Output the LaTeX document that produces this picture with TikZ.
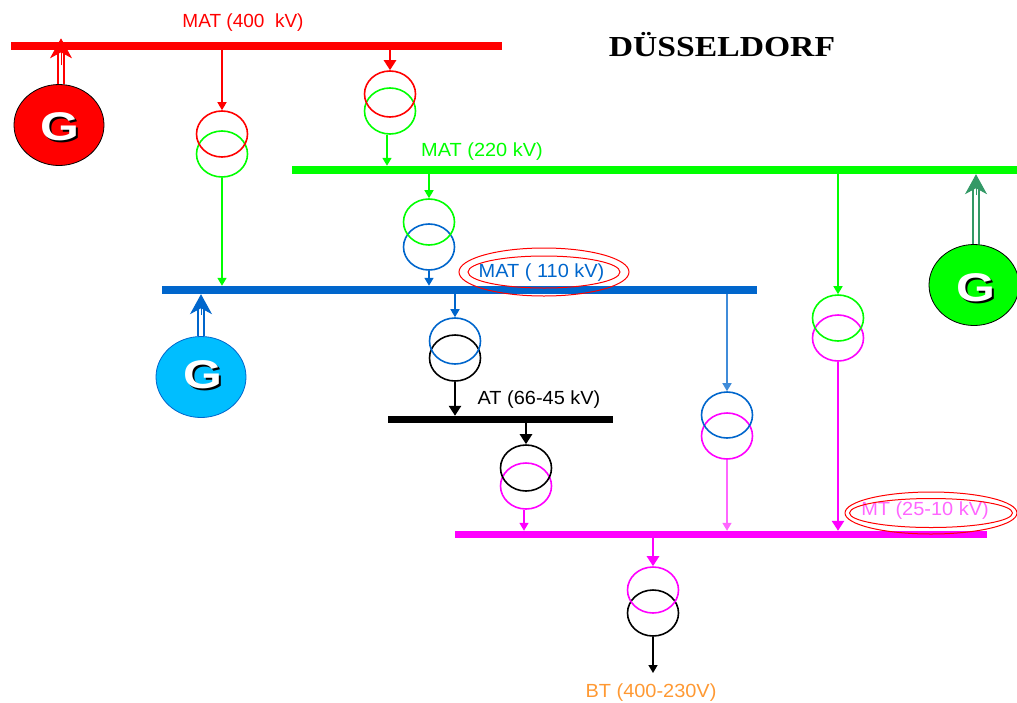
\documentclass[tikz,border=0pt]{standalone}
\usepackage{fontspec}
\setmainfont{Liberation Sans}
\newfontfamily\titlefont{Liberation Serif}
\usetikzlibrary{arrows.meta,shapes.geometric}
\definecolor{busred}{RGB}{255,0,0}
\definecolor{busgreen}{RGB}{0,255,0}
\definecolor{busblue}{RGB}{0,102,204}
\definecolor{buspink}{RGB}{255,0,255}
\definecolor{lightpink}{RGB}{255,102,255}
\definecolor{lvorange}{RGB}{255,153,51}
\definecolor{genteal}{RGB}{51,153,102}
\definecolor{gencyan}{RGB}{0,190,255}
\tikzset{
  bus/.style={rectangle,fill=#1,inner sep=0pt,minimum height=8},
  winding/.style={ellipse,draw=#1,line width=1.6,inner sep=0pt,minimum width=51,minimum height=46},
  feed/.style={draw=#1,line width=1.5,-{Triangle[length=8,width=9]}},
  heavyfeed/.style={draw=#1,line width=2.5,-{Triangle[length=10,width=12]}},
  gen/.style={ellipse,draw=black,fill=#1,line width=.8,inner sep=0pt,minimum width=90,minimum height=81},
  genshaft/.style={draw=#1,line width=2,double=white,double distance=4,shorten >=12},
  genhead/.style={draw=#1,line width=1,-{Stealth[length=20,width=22,inset=6]}},
  genletter/.style={text=#1,font=\bfseries\fontsize{40}{40}\selectfont,xscale=1.25},
  level/.style={text=#1,font=\fontsize{19}{19}\selectfont,xscale=1.05},
  ring/.style={ellipse,draw=busred,line width=1,inner sep=0pt}
}
\begin{document}
\begin{tikzpicture}[x=1pt,y=-1pt]
  \useasboundingbox (0,0) rectangle (1017,702);
  \node[bus=busred,minimum width=491] (bus400) at (256.5,45.5) {};
  \node[bus=busgreen,minimum width=725] (bus220) at (654.5,170) {};
  \node[bus=busblue,minimum width=595] (bus110) at (459.5,290) {};
  \node[bus=black,minimum width=225,minimum height=7] (bus66) at (500.5,419.5) {};
  \node[bus=buspink,minimum width=532,minimum height=7] (bus25) at (721,534.5) {};

  \node[level=busred,xscale=.952] (label400) at (243,23) {MAT (400\ \ kV)};
  \node[level=busgreen] (label220) at (482,152) {MAT (220 kV)};
  \node[level=busblue] (label110) at (541.5,273) {MAT ( 110 kV)};
  \node[level=black] (label66) at (539,400) {AT (66-45 kV)};
  \node[level=lightpink] (label25) at (925,511) {MT (25-10 kV)};
  \node[level=lvorange] (labellv) at (651,693) {BT (400-230V)};
  \node[font=\titlefont\bfseries\fontsize{29}{29}\selectfont,xscale=1.16] (title) at (722,45) {DÜSSELDORF};

  \node[ring,minimum width=170,minimum height=48] (ringA) at (544,272) {};
  \node[ring,minimum width=152,minimum height=32] (ringB) at (544,272) {};
  \node[ring,minimum width=172,minimum height=42] (ringC) at (931,513) {};
  \node[ring,minimum width=163,minimum height=29] (ringD) at (931,513) {};

  \node[winding=busgreen] (t1b) at (222,154) {};
  \node[winding=busred] (t1a) at (222,134) {};
  \node[winding=busgreen] (t2b) at (390,111) {};
  \node[winding=busred] (t2a) at (390,94) {};
  \node[winding=busblue] (t3b) at (429,247) {};
  \node[winding=busgreen] (t3a) at (429,222) {};
  \node[winding=black] (t4b) at (455,358) {};
  \node[winding=busblue] (t4a) at (455,341) {};
  \node[winding=buspink] (t5b) at (526,486) {};
  \node[winding=black] (t5a) at (526,468) {};
  \node[winding=buspink] (t6b) at (727,436) {};
  \node[winding=busblue] (t6a) at (727,415) {};
  \node[winding=buspink] (t7b) at (838,338) {};
  \node[winding=busgreen] (t7a) at (838,318) {};
  \node[winding=black] (t8b) at (653,613) {};
  \node[winding=buspink] (t8a) at (653,590) {};

  \coordinate (lvend) at (653,673);

  \draw[feed=busred] (t1a.north |- bus400.south) -- (t1a.north);
  \draw[feed=busgreen] (t1b.south) -- (t1b.south |- bus110.north);
  \draw[heavyfeed=busred] (t2a.north |- bus400.south) -- (t2a.north);
  \draw[feed=busgreen] ([xshift=-3]t2b.south) -- ([xshift=-3]t2b.south |- bus220.north);
  \draw[feed=busgreen] (t3a.north |- bus220.south) -- (t3a.north);
  \draw[feed=busblue] (t3b.south) -- (t3b.south |- bus110.north);
  \draw[feed=busblue] (t4a.north |- bus110.south) -- (t4a.north);
  \draw[feed=busblue!75] (t6a.north |- bus110.south) -- (t6a.north);
  \draw[feed=busgreen] (t7a.north |- bus220.south) -- (t7a.north);
  \draw[heavyfeed=buspink] (t7b.south) -- (t7b.south |- bus25.north);
  \draw[heavyfeed=black] (t4b.south) -- (t4b.south |- bus66.north);
  \draw[heavyfeed=black] (t5a.north |- bus66.south) -- (t5a.north);
  \draw[feed=buspink] ([xshift=-2]t5b.south) -- ([xshift=-2]t5b.south |- bus25.north);
  \draw[feed=lightpink] (t6b.south) -- (t6b.south |- bus25.north);
  \draw[heavyfeed=buspink] (t8a.north |- bus25.south) -- (t8a.north);
  \draw[feed=black] (t8b.south) -- (lvend);

  \node[gen=busred] (g400) at (59,125) {};
  \node[gen=busgreen] (g220) at (974,285) {};
  \node[gen=gencyan,draw=busblue] (g110) at (201,377) {};
  \draw[genshaft=busred] ([xshift=2]g400.north) -- ([xshift=2]g400.north |- bus400.north);
  \draw[genhead=busred] ([xshift=2,yshift=-24]g400.north |- bus400.north) -- ([xshift=2,yshift=3]g400.north |- bus400.north);
  \draw[genshaft=genteal] ([xshift=2]g220.north) -- ([xshift=2]g220.north |- bus220.south);
  \draw[genhead=genteal] ([xshift=2,yshift=-21]g220.north |- bus220.south) -- ([xshift=2]g220.north |- bus220.south);
  \draw[genshaft=busblue] (g110.north) -- (g110.north |- bus110.south);
  \draw[genhead=busblue] ([yshift=-21]g110.north |- bus110.south) -- (g110.north |- bus110.south);
  \node[genletter=black] (g400b) at (61.5,128.5) {G};
  \node[genletter=white] (g400l) at (60,127) {G};
  \node[genletter=black] (g220b) at (977.5,289.5) {G};
  \node[genletter=white] (g220l) at (976,288) {G};
  \node[genletter=black] (g110b) at (204.5,376.5) {G};
  \node[genletter=white] (g110l) at (203,375) {G};
\end{tikzpicture}
\end{document}
